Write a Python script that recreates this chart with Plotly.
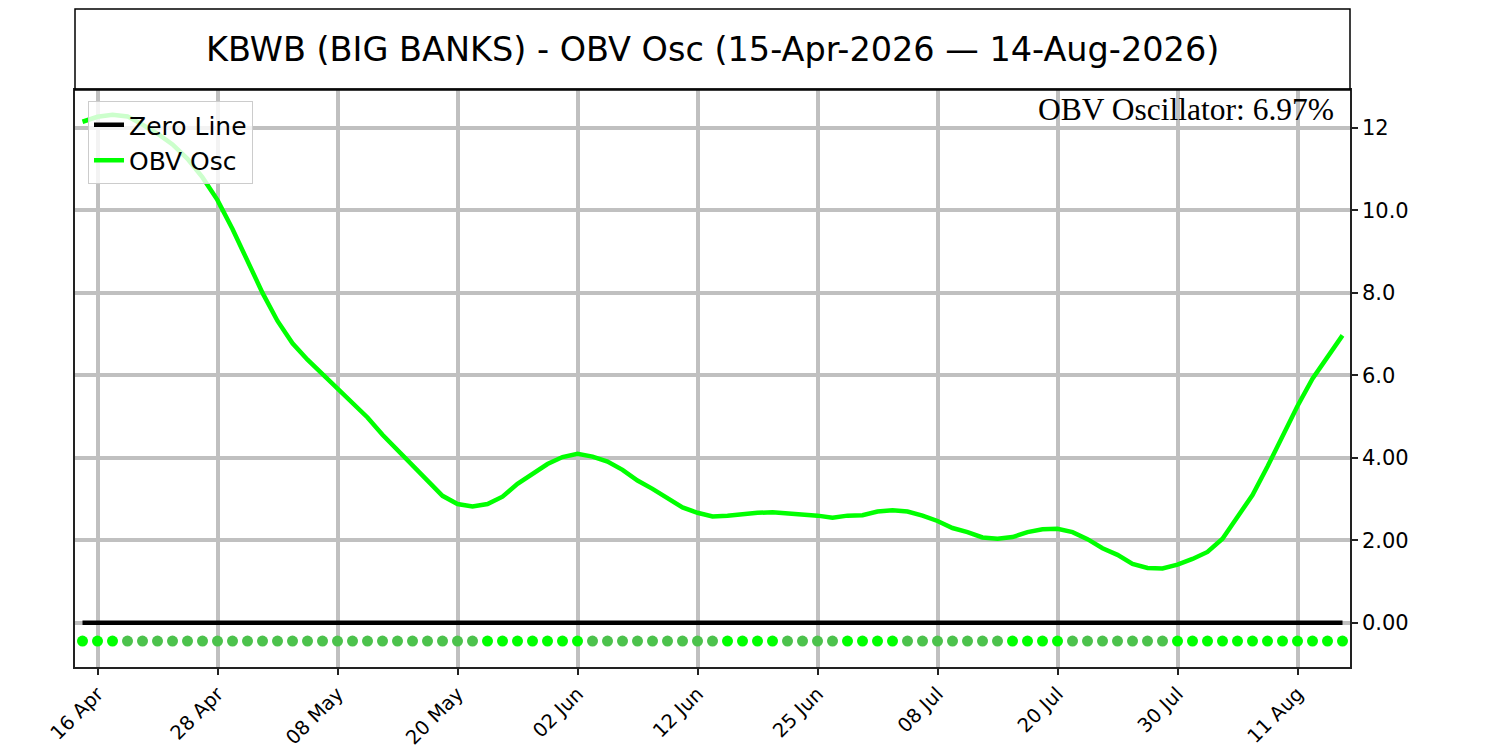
import pandas as pd
import plotly.graph_objects as go

# trading days 15-Apr-2026 .. 14-Aug-2026 (US market holidays skipped)
holidays = ["2026-05-25", "2026-06-19", "2026-07-03"]
dates = pd.bdate_range("2026-04-15", "2026-08-14", freq="C", holidays=holidays)
date_labels = [d.strftime("%Y-%m-%d") for d in dates]

# OBV oscillator values (%)
obv_osc = [
    12.15, 12.27, 12.32, 12.28, 12.08, 11.86, 11.60, 11.25, 10.80, 10.25,
    9.55, 8.80, 8.00, 7.32, 6.78, 6.38, 6.03, 5.69, 5.33, 4.98,
    4.56, 4.19, 3.83, 3.46, 3.08, 2.88, 2.82, 2.88, 3.06, 3.37,
    3.61, 3.85, 4.02, 4.10, 4.03, 3.91, 3.71, 3.45, 3.25, 3.02,
    2.80, 2.67, 2.58, 2.60, 2.64, 2.67, 2.68, 2.66, 2.64, 2.60,
    2.55, 2.60, 2.61, 2.70, 2.73, 2.70, 2.60, 2.47, 2.30, 2.20,
    2.07, 2.04, 2.08, 2.20, 2.27, 2.28, 2.20, 2.03, 1.81, 1.65,
    1.43, 1.33, 1.32, 1.41, 1.55, 1.72, 2.04, 2.56, 3.10, 3.79,
    4.52, 5.26, 5.92, 6.46, 6.97,
]

# direction dots along the bottom: 1 = rising, 0 = falling
direction = (
    [1] * 3 + [0] * 24 + [1] * 7 + [0] * 9 + [1] * 4 + [0] * 4
    + [1] * 4 + [0] * 7 + [1] * 4 + [0] * 7 + [1] * 12
)
dot_level = -0.44

y_tickvals = [0, 2, 4, 6, 8, 10, 12]
y_ticktext = ["0.00", "2.00", "4.00", "6.0", "8.0", "10.0", "12"]

UP_COLOR = "#00ff00"
DOWN_COLOR = "#4cc24c"
GRID = "#c0c0c0"
SPINE = "#222222"

tick_dates = date_labels[1::8]
tick_text = [d.strftime("%d %b") for d in dates[1::8]]

fig = go.Figure()

fig.add_trace(go.Scatter(
    x=date_labels, y=[0] * len(date_labels),
    mode="lines", name="Zero Line",
    line=dict(color="black", width=4.5),
))
fig.add_trace(go.Scatter(
    x=date_labels, y=obv_osc,
    mode="lines", name="OBV Osc",
    line=dict(color=UP_COLOR, width=4.5),
))
fig.add_trace(go.Scatter(
    x=date_labels, y=[dot_level] * len(date_labels),
    mode="markers", showlegend=False,
    marker=dict(size=11, color=[UP_COLOR if d else DOWN_COLOR for d in direction]),
))

# page body has an 8px margin, so the figure is shrunk by that much
W, H = 1492, 742
plot_w = 1275
plot_h = 577
box_top = 1 + 81 / plot_h

fig.update_layout(
    width=W, height=H,
    margin=dict(l=67, r=W - 67 - plot_w, t=82, b=H - 82 - plot_h),
    paper_bgcolor="white",
    plot_bgcolor="white",
    font=dict(family="DejaVu Sans", color="black"),
    showlegend=True,
    legend=dict(
        x=13 / plot_w, y=1 - 11 / plot_h, xanchor="left", yanchor="top",
        bgcolor="rgba(255,255,255,0.8)",
        bordercolor="#cccccc", borderwidth=1,
        font=dict(size=25, family="DejaVu Sans"),
        itemwidth=30,
    ),
    shapes=[
        dict(type="rect", xref="paper", yref="paper",
             x0=0, x1=1, y0=1, y1=box_top,
             line=dict(color="black", width=1.5)),
    ],
    annotations=[
        dict(text="KBWB (BIG BANKS) - OBV Osc (15-Apr-2026 \u2014 14-Aug-2026)",
             xref="paper", yref="paper", x=0.5, y=1 + 40 / plot_h,
             xanchor="center", yanchor="middle", showarrow=False,
             font=dict(size=33.5, family="DejaVu Sans")),
        dict(text=f"OBV Oscillator: {obv_osc[-1]:.2f}%",
             xref="paper", yref="paper", x=(1336 - 75) / plot_w, y=1 - 19.5 / plot_h,
             xanchor="right", yanchor="middle", showarrow=False,
             font=dict(size=31.5, family="Liberation Serif")),
    ],
)

fig.update_xaxes(
    type="category",
    range=[-0.5, len(date_labels) - 0.5],
    tickvals=tick_dates, ticktext=tick_text,
    tickangle=-45, tickfont=dict(size=19.5),
    ticks="outside", ticklen=6, tickcolor=SPINE, tickwidth=1.5,
    showgrid=True, gridcolor=GRID, gridwidth=4,
    showline=True, linecolor=SPINE, linewidth=1.5, mirror=True,
    automargin=False,
)
fig.update_yaxes(
    side="right",
    range=[-1.07, 12.92],
    tickvals=y_tickvals, ticktext=y_ticktext,
    tickfont=dict(size=21),
    ticks="outside", ticklen=6, tickcolor=SPINE, tickwidth=1.5,
    showgrid=True, gridcolor=GRID, gridwidth=4,
    zeroline=False,
    showline=True, linecolor=SPINE, linewidth=1.5, mirror=True,
    automargin=False,
)

fig.write_html("out.html")
